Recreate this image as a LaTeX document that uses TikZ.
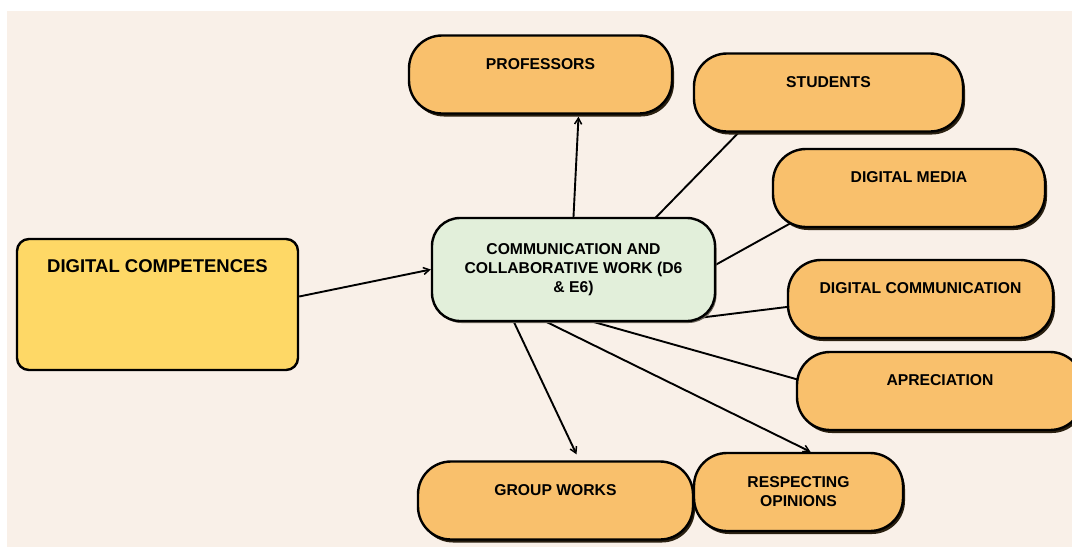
\documentclass[tikz,border=0pt]{standalone}
\usepackage{fontspec}
\setmainfont{Liberation Sans}
\usetikzlibrary{arrows.meta,shadows,calc}
\definecolor{bgc}{HTML}{F9F0E8}
\definecolor{orangec}{HTML}{F9C06C}
\definecolor{yellowc}{HTML}{FED866}
\definecolor{greenc}{HTML}{E2EFDA}
\definecolor{shadc}{HTML}{2A2010}
\pgfdeclarelayer{bglayer}
\pgfdeclarelayer{linelayer}
\pgfsetlayers{bglayer,linelayer,main}
\tikzset{
  basebox/.style={draw=black, line width=2.4pt, inner sep=0pt, align=center,
    font=\fontsize{15.7}{19}\selectfont\bfseries},
  orangebox/.style={basebox, fill=orangec, rounded corners=33pt, minimum height=78pt,
    drop shadow={shadow xshift=2pt, shadow yshift=-3pt, fill=shadc, opacity=1}},
  toptext/.style={text height=12pt, text depth=22.6pt},
  conn/.style={line width=1.9pt, black},
  arr/.style={conn, -{Straight Barb[length=6pt,width=7pt,line width=1.5pt]}},
  ext/.style={shorten <=-4pt, shorten >=-4pt}
}
\begin{document}
\begin{tikzpicture}[x=1pt,y=-1pt]
\useasboundingbox (0,0) rectangle (1072,547);
\begin{pgfonlayer}{bglayer}
  \fill[white] (0,0) rectangle (1072,547);
  \fill[bgc] (7,11) rectangle (1072,547);
\end{pgfonlayer}

\node[basebox, fill=yellowc, rounded corners=12pt, minimum width=281pt, minimum height=131pt,
  font=\fontsize{18.5}{22}\selectfont\bfseries, text height=14pt, text depth=77.8pt] (dc) at (157.5,304.5) {DIGITAL COMPETENCES};

\node[basebox, fill=greenc, rounded corners=28pt, minimum width=283pt, minimum height=103pt,
  drop shadow={shadow xshift=1.5pt, shadow yshift=-2pt, fill=shadc!70, opacity=1}] (cen) at (573.5,269.5)
  {COMMUNICATION AND\\COLLABORATIVE WORK (D6\\\& E6)};

\node[orangebox, toptext, minimum width=263pt] (prof) at (540.5,74.5) {PROFESSORS};
\node[orangebox, toptext, minimum width=269pt] (stud) at (828.5,92.5) {STUDENTS};
\node[orangebox, toptext, minimum width=272pt] (dmed) at (909,188) {DIGITAL MEDIA};
\node[orangebox, toptext, minimum width=265pt] (dcom) at (920.5,299) {DIGITAL COMMUNICATION};
\node[orangebox, toptext, minimum width=286pt] (aprec) at (940,391) {APRECIATION};
\node[orangebox, toptext, minimum width=275pt] (group) at (555.5,500.5) {GROUP WORKS};
\node[orangebox, minimum width=209pt] (resp) at (798.5,492) {RESPECTING\\OPINIONS};

\begin{pgfonlayer}{linelayer}
  \draw[arr] ([yshift=8pt]dc.east) -- (cen.west);
  \draw[arr] (cen.north) -- ([xshift=38pt,yshift=-2pt]prof.south);
  \draw[conn, ext] ([xshift=83pt]cen.north) -- ([xshift=-90pt]stud.south);
  \draw[conn, ext] ([yshift=5pt]cen.east) -- ([xshift=17pt,yshift=4pt]dmed.south west);
  \draw[conn, ext] ([xshift=-28pt,yshift=3pt]cen.south east) -- ([yshift=-8pt]dcom.west);
  \draw[conn, ext] ([xshift=21pt]cen.south) -- ([yshift=12pt]aprec.west);
  \draw[arr] ([xshift=-59.5pt]cen.south) -- ([xshift=21pt,yshift=6pt]group.north);
  \draw[arr] ([xshift=-26.5pt]cen.south) -- ([xshift=12pt]resp.north);
\end{pgfonlayer}
\end{tikzpicture}
\end{document}
